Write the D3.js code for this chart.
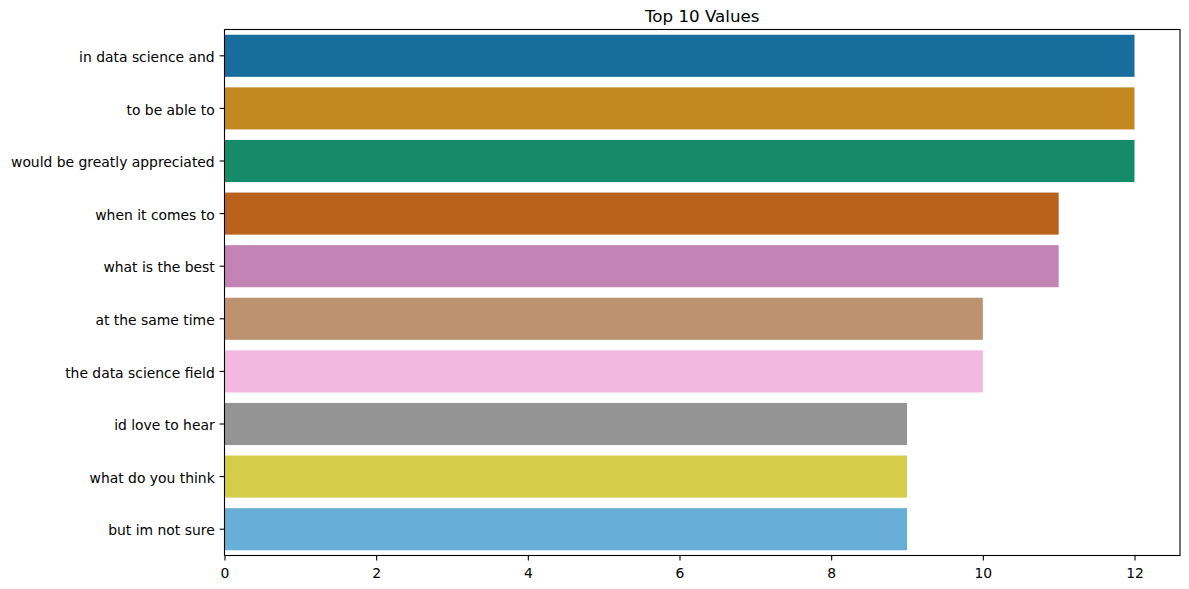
<!DOCTYPE html>
<html>
<head>
<meta charset="utf-8">
<script src="https://cdn.jsdelivr.net/npm/d3@7"></script>
<style>
  body { margin: 0; background: #fff; }
  text { font-family: "DejaVu Sans", sans-serif; }
</style>
</head>
<body>
<svg id="chart" width="1189" height="589"></svg>
<script>
const phrases = ["in data science and", "to be able to", "would be greatly appreciated", "when it comes to",
  "what is the best", "at the same time", "the data science field", "id love to hear", "what do you think", "but im not sure"];
const counts = [12, 12, 12, 11, 11, 10, 10, 9, 9, 9];
const palette = ["#0173b2", "#de8f05", "#029e73", "#d55e00", "#cc78bc", "#ca9161", "#fbafe4", "#949494", "#ece133", "#56b4e9"];
const xTicks = [0, 2, 4, 6, 8, 10, 12];

const svg = d3.select("#chart"),
      margin = {top: 29.5, right: 9, bottom: 33.5, left: 224.5},
      width = +svg.attr("width") - margin.left - margin.right,
      height = +svg.attr("height") - margin.top - margin.bottom;

const g = svg.append("g").attr("transform", `translate(${margin.left},${margin.top})`);

// seaborn barplot desaturates to 75%
const desat = c => { const h = d3.hsl(c); h.s *= 0.75; return h.formatHex(); };

const x = d3.scaleLinear().domain([0, 12.6]).range([0, width]);
const y = d3.scaleBand().domain(phrases).range([0, height]).paddingInner(0.2).paddingOuter(0.1);

const data = phrases.map((p, i) => ({phrase: p, count: counts[i], color: desat(palette[i])}));

g.selectAll("rect.bar")
  .data(data)
  .enter().append("rect")
  .attr("class", "bar")
  .attr("x", x(0))
  .attr("y", d => y(d.phrase))
  .attr("width", d => x(d.count) - x(0))
  .attr("height", y.bandwidth())
  .attr("fill", d => d.color);

const xAxis = g.append("g").attr("transform", `translate(0,${height})`)
  .call(d3.axisBottom(x).tickValues(xTicks).tickFormat(d3.format("d")).tickSize(4.9).tickPadding(7.5));
const yAxis = g.append("g")
  .call(d3.axisLeft(y).tickSize(4.9).tickPadding(4.9));

[xAxis, yAxis].forEach(a => {
  a.select(".domain").remove();
  a.selectAll("text").attr("font-size", 13.9).attr("fill", "#000").attr("font-family", "DejaVu Sans, sans-serif");
  a.selectAll("line").attr("stroke", "#000").attr("stroke-width", 1.1);
});
yAxis.selectAll("text").attr("dy", "0.45em");

g.append("rect")
  .attr("width", width).attr("height", height)
  .attr("fill", "none").attr("stroke", "#000").attr("stroke-width", 1.1);

svg.append("text")
  .attr("x", margin.left + width / 2)
  .attr("y", margin.top - 7.3)
  .attr("text-anchor", "middle")
  .attr("font-size", 16.7)
  .text("Top 10 Values");
</script>
</body>
</html>
